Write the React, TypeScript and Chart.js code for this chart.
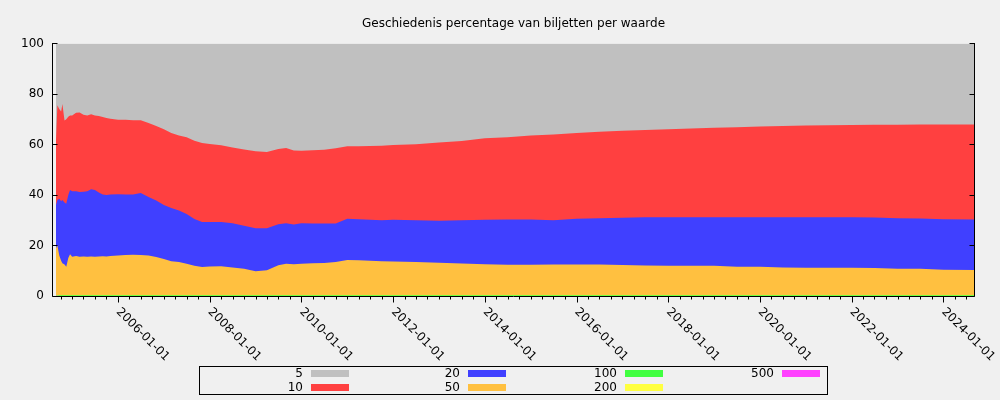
import { useEffect, useRef } from 'react';
import { Chart, registerables } from 'chart.js';

Chart.register(...registerables);

// ---------- data ----------
const TITLE = 'Geschiedenis percentage van biljetten per waarde';

const DATES = [
  '2004-08-25', '2004-09-05', '2004-09-20', '2004-10-05', '2004-10-15', '2004-11-01', '2004-11-15', '2004-12-01', '2004-12-15', '2005-01-01',
  '2005-02-01', '2005-03-01', '2005-04-01', '2005-05-01', '2005-06-01', '2005-07-01', '2005-08-01', '2005-09-01', '2005-10-01', '2005-11-01',
  '2006-01-01', '2006-03-01', '2006-05-01', '2006-07-01', '2006-09-01', '2006-11-01', '2007-01-01', '2007-03-01', '2007-05-01', '2007-07-01',
  '2007-09-01', '2007-11-01', '2008-01-01', '2008-04-01', '2008-07-01', '2008-10-01', '2009-01-01', '2009-04-01', '2009-07-01', '2009-09-01',
  '2009-11-01', '2010-01-01', '2010-04-01', '2010-07-01', '2010-10-01', '2011-01-01', '2011-04-01', '2011-07-01', '2011-10-01', '2012-01-01',
  '2012-07-01', '2013-01-01', '2013-07-01', '2014-01-01', '2014-07-01', '2015-01-01', '2015-07-01', '2016-01-01', '2016-07-01', '2017-01-01',
  '2017-07-01', '2018-01-01', '2018-07-01', '2019-01-01', '2019-07-01', '2020-01-01', '2020-07-01', '2021-01-01', '2021-07-01', '2022-01-01',
  '2022-07-01', '2023-01-01', '2023-07-01', '2024-01-01', '2024-09-01',
];

const P5 = [
  38, 24.5, 26, 27, 24, 30.5, 30, 29, 28.5, 28.5,
  27.5, 27.4, 28.2, 28.5, 28, 28.5, 28.7, 29.1, 29.5, 29.8,
  30.2, 30.2, 30.4, 30.4, 31.5, 32.7, 34, 35.5, 36.5, 37.2,
  38.5, 39.4, 39.8, 40.3, 41.2, 42, 42.7, 43, 41.8, 41.4,
  42.4, 42.5, 42.3, 42.1, 41.5, 40.7, 40.7, 40.6, 40.5, 40.2,
  39.9, 39.2, 38.6, 37.5, 37.2, 36.5, 36.1, 35.5, 35, 34.6,
  34.3, 34, 33.7, 33.4, 33.2, 32.9, 32.7, 32.5, 32.4, 32.3,
  32.2, 32.2, 32.1, 32.1, 32.1,
];

const P10 = [
  26, 37.5, 35.5, 35.5, 38, 32.5, 33.5, 31, 29.5, 30,
  31, 31.4, 30.5, 30, 29.7, 29.5, 30.3, 30.7, 30.5, 30,
  29.5, 29.6, 29.4, 28.8, 29.3, 29.5, 30, 29.7, 29.7, 30.3,
  31, 31.3, 30.9, 30.4, 30, 30.2, 30.5, 30.2, 29.8, 29.8,
  29.3, 28.7, 29, 29.2, 29.8, 28.7, 28.9, 29.2, 29.5, 29.6,
  30.1, 31, 31.4, 32.3, 32.5, 33.2, 33.9, 33.9, 34.2, 34.4,
  34.5, 34.8, 35.1, 35.4, 35.6, 35.9, 36.1, 36.3, 36.4, 36.5,
  36.7, 37, 37.2, 37.5, 37.6,
];

const P20 = [
  17, 18, 22.5, 23.5, 25, 24.5, 24.9, 25, 25.5, 26,
  25.7, 25.7, 25.7, 26, 26.7, 26.5, 25.4, 24.5, 24.4, 24.4,
  24.3, 24, 23.9, 24.6, 23.2, 22.4, 21.4, 21, 20.3, 19.7,
  18.5, 17.8, 17.6, 17.5, 17.5, 17, 17, 16.6, 16.2, 16,
  15.7, 16, 15.7, 15.6, 15.2, 16.3, 16.2, 16.2, 16.2, 16.5,
  16.5, 16.6, 17.1, 17.6, 17.9, 17.9, 17.5, 18.1, 18.3, 18.7,
  19.1, 19.2, 19.2, 19.2, 19.6, 19.6, 19.9, 20, 20, 20,
  20, 20, 19.9, 20, 20,
];

const P50 = [
  18.6, 19.6, 15.6, 13.6, 12.6, 12.1, 11.2, 14.6, 16.1, 15.1,
  15.4, 15.1, 15.2, 15.1, 15.2, 15.1, 15.2, 15.3, 15.2, 15.4,
  15.6, 15.8, 15.9, 15.8, 15.6, 15.0, 14.2, 13.4, 13.1, 12.4,
  11.6, 11.1, 11.3, 11.4, 10.9, 10.4, 9.4, 9.8, 11.8, 12.4,
  12.2, 12.4, 12.6, 12.7, 13.1, 13.9, 13.8, 13.6, 13.4, 13.3,
  13.1, 12.8, 12.5, 12.2, 12.0, 12.0, 12.1, 12.1, 12.1, 11.9,
  11.7, 11.6, 11.6, 11.6, 11.2, 11.2, 10.9, 10.8, 10.8, 10.8,
  10.7, 10.4, 10.4, 10.0, 9.9,
];

const P100 = [
  0.2, 0.25, 0.3, 0.3, 0.3, 0.3, 0.3, 0.3, 0.3, 0.3,
  0.3, 0.3, 0.3, 0.3, 0.3, 0.3, 0.3, 0.3, 0.3, 0.3,
  0.3, 0.3, 0.3, 0.3, 0.3, 0.3, 0.3, 0.3, 0.3, 0.3,
  0.3, 0.3, 0.3, 0.3, 0.3, 0.3, 0.3, 0.3, 0.3, 0.3,
  0.3, 0.3, 0.3, 0.3, 0.3, 0.3, 0.3, 0.3, 0.3, 0.3,
  0.3, 0.3, 0.3, 0.3, 0.3, 0.3, 0.3, 0.3, 0.3, 0.3,
  0.3, 0.3, 0.3, 0.3, 0.3, 0.3, 0.3, 0.3, 0.3, 0.3,
  0.3, 0.3, 0.3, 0.3, 0.3,
];

const P200 = [
  0.1, 0.1, 0.08, 0.08, 0.07, 0.07, 0.07, 0.07, 0.07, 0.07,
  0.07, 0.07, 0.07, 0.07, 0.07, 0.07, 0.07, 0.07, 0.07, 0.07,
  0.07, 0.07, 0.07, 0.07, 0.07, 0.07, 0.07, 0.07, 0.07, 0.07,
  0.07, 0.07, 0.07, 0.07, 0.07, 0.07, 0.07, 0.07, 0.07, 0.07,
  0.07, 0.07, 0.07, 0.07, 0.07, 0.07, 0.07, 0.07, 0.07, 0.07,
  0.07, 0.07, 0.07, 0.07, 0.07, 0.07, 0.07, 0.07, 0.07, 0.07,
  0.07, 0.07, 0.07, 0.07, 0.07, 0.07, 0.07, 0.07, 0.07, 0.07,
  0.07, 0.07, 0.07, 0.07, 0.07,
];

const P500 = [
  0.1, 0.05, 0.02, 0.02, 0.03, 0.03, 0.03, 0.03, 0.03, 0.03,
  0.03, 0.03, 0.03, 0.03, 0.03, 0.03, 0.03, 0.03, 0.03, 0.03,
  0.03, 0.03, 0.03, 0.03, 0.03, 0.03, 0.03, 0.03, 0.03, 0.03,
  0.03, 0.03, 0.03, 0.03, 0.03, 0.03, 0.03, 0.03, 0.03, 0.03,
  0.03, 0.03, 0.03, 0.03, 0.03, 0.03, 0.03, 0.03, 0.03, 0.03,
  0.03, 0.03, 0.03, 0.03, 0.03, 0.03, 0.03, 0.03, 0.03, 0.03,
  0.03, 0.03, 0.03, 0.03, 0.03, 0.03, 0.03, 0.03, 0.03, 0.03,
  0.03, 0.03, 0.03, 0.03, 0.03,
];

const X_TICK_LABELS = [
  '2006-01-01', '2008-01-01', '2010-01-01', '2012-01-01', '2014-01-01',
  '2016-01-01', '2018-01-01', '2020-01-01', '2022-01-01', '2024-01-01',
];
const X_MIN_DATE = '2004-08-01';
const X_MAX_DATE = '2024-09-01';

const LEGEND_ORDER = ['5', '10', '20', '50', '100', '200', '500'];

// ---------- helpers ----------
function toYear(s: string): number {
  const [y, m, d] = s.split('-').map(Number);
  const t = Date.UTC(y, m - 1, d);
  const a = Date.UTC(y, 0, 1);
  const b = Date.UTC(y + 1, 0, 1);
  return y + (t - a) / (b - a);
}
const pad = (n: number) => (n < 10 ? '0' + n : '' + n);
const labelFor = (v: number) => {
  const hit = X_TICK_LABELS.find((l) => Math.abs(toYear(l) - v) < 1e-6);
  return hit || '';
};

const FONT_FAMILY = '"DejaVu Sans", "Liberation Sans", sans-serif';
const FONT = '12px ' + FONT_FAMILY;

const series: { label: string; values: number[]; color: string }[] = [
  { label: '500', values: P500, color: '#ff40ff' },
  { label: '200', values: P200, color: '#ffff40' },
  { label: '100', values: P100, color: '#40ff40' },
  { label: '50', values: P50, color: '#ffc040' },
  { label: '20', values: P20, color: '#4040ff' },
  { label: '10', values: P10, color: '#ff4040' },
  { label: '5', values: P5, color: '#c0c0c0' },
];

const decorPlugin = {
  id: 'decor',
  beforeDraw(chart: any) {
    const ctx = chart.ctx;
    ctx.save();
    ctx.fillStyle = '#f0f0f0';
    ctx.fillRect(0, 0, chart.width, chart.height);
    ctx.restore();
  },
  afterDraw(chart: any) {
    const { ctx, chartArea: a } = chart;
    const x = chart.scales.x;
    const y = chart.scales.y;
    ctx.save();
    const L = Math.round(a.left) - 0.5;
    const R = Math.round(a.right) + 0.5;
    const B = Math.round(a.bottom) + 0.5;
    const T = Math.round(a.top);
    ctx.strokeStyle = '#000';
    ctx.lineWidth = 1;
    ctx.beginPath();
    ctx.moveTo(L, T);
    ctx.lineTo(L, B);
    ctx.lineTo(R, B);
    ctx.lineTo(R, T);
    y.ticks.forEach((t: any) => {
      const py = Math.round(y.getPixelForValue(t.value)) + 0.5;
      ctx.moveTo(L, py);
      ctx.lineTo(L + 5, py);
      ctx.moveTo(R, py);
      ctx.lineTo(R - 5, py);
    });
    x.ticks.forEach((t: any) => {
      const px = Math.round(x.getPixelForValue(t.value)) + 0.5;
      const len = labelFor(t.value) ? 6 : 3;
      ctx.moveTo(px, B);
      ctx.lineTo(px, B + len);
    });
    ctx.stroke();

    // rotated x labels
    ctx.font = FONT;
    ctx.fillStyle = '#000';
    ctx.textAlign = 'left';
    ctx.textBaseline = 'middle';
    x.ticks.forEach((t: any) => {
      const lbl = labelFor(t.value);
      if (!lbl) return;
      const px = x.getPixelForValue(t.value);
      ctx.save();
      ctx.translate(px, a.bottom + 14);
      ctx.rotate(Math.PI / 4);
      ctx.fillText(lbl, 0, 0);
      ctx.restore();
    });

    // legend box
    const bx = 199;
    const by = 366;
    const colW = 157;
    ctx.strokeRect(bx + 0.5, by + 0.5, colW * 4, 28);
    ctx.textAlign = 'right';
    LEGEND_ORDER.forEach((name, i) => {
      const ds = chart.data.datasets.find((d: any) => d.label === name);
      if (!ds) return;
      const col = Math.floor(i / 2);
      const row = i % 2;
      const cx = bx + col * colW;
      const cy = by + (row ? 21.5 : 7.5);
      ctx.fillStyle = '#000';
      ctx.fillText(name, cx + 104, cy);
      ctx.fillStyle = ds.backgroundColor;
      ctx.fillRect(cx + 112, Math.round(cy - 3.5), 38, 7);
    });
    ctx.restore();
  },
};

export default function App() {
  const ref = useRef<HTMLCanvasElement>(null);

  useEffect(() => {
    if (!ref.current) return;
    Chart.defaults.font.family = FONT_FAMILY;
    Chart.defaults.font.size = 12;
    Chart.defaults.color = '#000';

    const datasets = series.map((s) => ({
      label: s.label,
      data: DATES.map((d, i) => ({ x: toYear(d), y: s.values[i] })),
      backgroundColor: s.color,
      borderColor: 'rgba(0,0,0,0)',
      borderWidth: 0,
      pointRadius: 0,
      fill: 'origin',
      tension: 0,
    }));

    const chart = new Chart(ref.current, {
      type: 'line',
      data: { datasets } as any,
      options: {
        animation: false,
        responsive: false,
        devicePixelRatio: 1,
        layout: { padding: { left: 0, right: 26, top: 0, bottom: 0 } },
        plugins: {
          legend: { display: false },
          tooltip: { enabled: false },
          title: {
            display: true,
            text: TITLE,
            fullSize: false,
            color: '#000',
            font: { family: FONT_FAMILY, size: 12, weight: 'normal', lineHeight: 1.2 },
            padding: { top: 17, bottom: 12 },
          },
        },
        scales: {
          x: {
            type: 'linear',
            min: toYear(X_MIN_DATE),
            max: toYear(X_MAX_DATE),
            grid: { display: false, drawTicks: false },
            border: { display: false },
            ticks: { display: false, callback: (v: any) => labelFor(Number(v)) },
            afterBuildTicks: (scale: any) => {
              const ticks: any[] = [];
              for (let yr = 2004; yr <= 2024; yr++) {
                for (let m = 1; m <= 12; m += 3) {
                  const v = toYear(`${yr}-${pad(m)}-01`);
                  if (v < scale.min || v > scale.max) continue;
                  ticks.push({ value: v });
                }
              }
              scale.ticks = ticks;
            },
            afterFit: (scale: any) => {
              scale.height = 104;
            },
          },
          y: {
            stacked: true,
            min: 0,
            max: 100,
            grid: { display: false, drawTicks: false, tickLength: 0 },
            border: { display: false },
            ticks: { stepSize: 20, padding: 9, color: '#000', font: { family: FONT_FAMILY, size: 12 } },
            afterFit: (scale: any) => {
              scale.width = 53;
            },
          },
        },
      } as any,
      plugins: [decorPlugin],
    });
    return () => chart.destroy();
  }, []);

  return (
    <div style={{ position: 'absolute', left: 0, top: 0, width: 1000, height: 400, background: '#f0f0f0' }}>
      <canvas ref={ref} width={1000} height={400} style={{ display: 'block', width: 1000, height: 400 }} />
    </div>
  );
}
